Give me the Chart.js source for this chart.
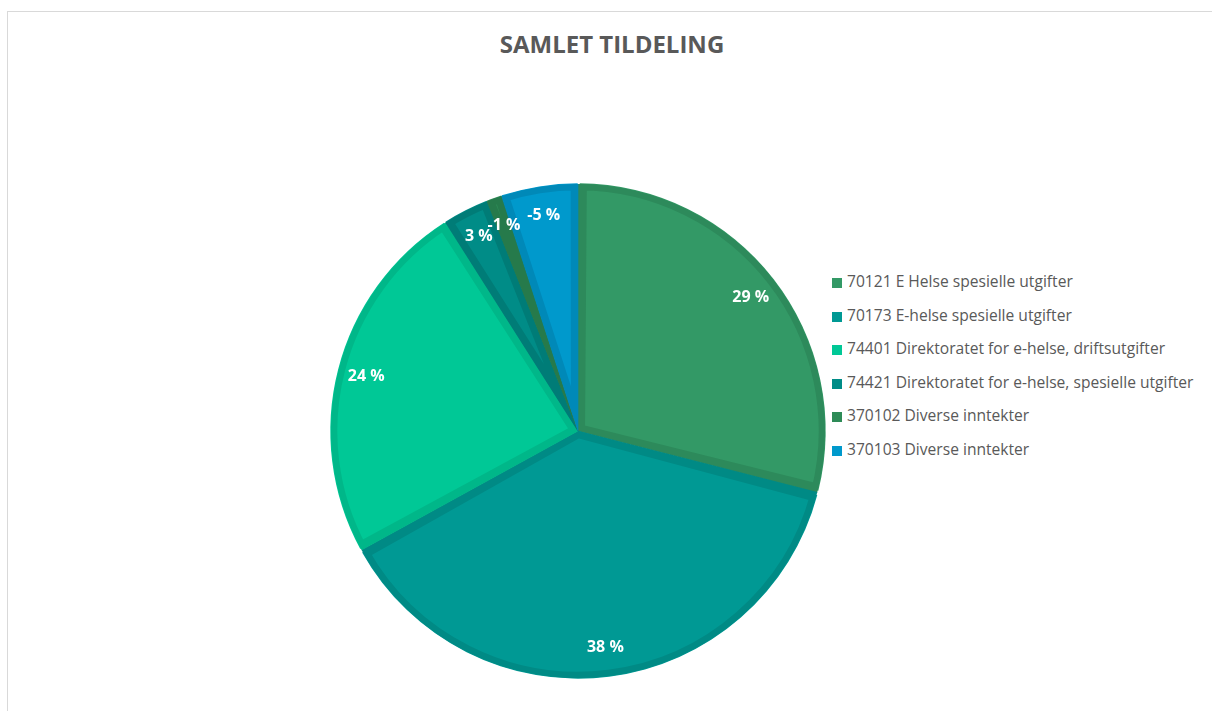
<!DOCTYPE html>
<html>
<head>
<meta charset="utf-8">
<script src="https://cdn.jsdelivr.net/npm/chart.js@4"></script>
<style>
  body { margin: 0; background: #fff; }
  #wrap { position: relative; width: 1212px; height: 711px; overflow: hidden; }
  #frame { position: absolute; left: 7px; top: 11px; right: 0; bottom: -5px;
           border-top: 1px solid #d9d9d9; border-left: 1px solid #d9d9d9; }
  #title { position: absolute; left: 0; width: 1224px; top: 27px; text-align: center;
           font-family: "Open Sans", sans-serif; font-weight: bold; font-size: 24px; color: #595959; }
  #legend { position: absolute; left: 832px; top: 270px; font-family: "Open Sans", sans-serif;
            font-size: 15.6px; color: #595959; }
  #legend div { height: 33.6px; line-height: 22px; white-space: nowrap; }
  #legend span { display: inline-block; width: 10px; height: 10px; margin-right: 5px; vertical-align: -1px; }
  canvas { position: absolute; left: 0; top: 0; }
</style>
</head>
<body>
<div id="wrap">
  <div id="frame"></div>
  <div id="title">SAMLET TILDELING</div>
  <div id="legend"></div>
  <canvas id="pie" width="1212" height="711"></canvas>
</div>
<script>
// data (prosent av samlet tildeling)
const categories = [
  "70121 E Helse spesielle utgifter",
  "70173 E-helse spesielle utgifter",
  "74401 Direktoratet for e-helse, driftsutgifter",
  "74421 Direktoratet for e-helse, spesielle utgifter",
  "370102 Diverse inntekter",
  "370103 Diverse inntekter"
];
const shares = [29, 38, 24, 3, -1, -5];

const fillColors = ["#339966", "#009994", "#00c896", "#008c87", "#2e8b57", "#0099cc"];
const edgeColors = ["#2d8a5b", "#008a85", "#00b789", "#007c77", "#267a4b", "#0089b8"];

// legend
const legendEl = document.getElementById("legend");
categories.forEach(function (name, i) {
  const row = document.createElement("div");
  const box = document.createElement("span");
  box.style.background = fillColors[i];
  row.appendChild(box);
  row.appendChild(document.createTextNode(name));
  legendEl.appendChild(row);
});

// prosent-etiketter nær ytterkanten
const sliceLabels = {
  id: "sliceLabels",
  afterDatasetsDraw(chart) {
    const ctx = chart.ctx;
    const meta = chart.getDatasetMeta(0);
    ctx.save();
    ctx.font = "bold 16px 'Open Sans', sans-serif";
    ctx.fillStyle = "#ffffff";
    ctx.textAlign = "center";
    ctx.textBaseline = "middle";
    meta.data.forEach(function (arc, i) {
      const p = arc.getProps(["x", "y", "startAngle", "endAngle", "outerRadius"], true);
      const mid = (p.startAngle + p.endAngle) / 2;
      const r = p.outerRadius * 0.885;
      ctx.fillText(shares[i] + " %", p.x + Math.cos(mid) * r, p.y + Math.sin(mid) * r);
    });
    ctx.restore();
  }
};

const ctx = document.getElementById("pie").getContext("2d");
new Chart(ctx, {
  type: "pie",
  data: {
    labels: categories,
    datasets: [{
      data: shares.map(Math.abs),
      backgroundColor: fillColors,
      borderColor: edgeColors,
      borderWidth: 7,
      borderAlign: "inner",
      spacing: 2,
      hoverOffset: 0
    }]
  },
  options: {
    responsive: false,
    animation: false,
    layout: { padding: { left: 330, right: 386, top: 183, bottom: 32 } },
    plugins: {
      legend: { display: false },
      title: { display: false },
      tooltip: { enabled: false }
    }
  },
  plugins: [sliceLabels]
});
</script>
</body>
</html>
